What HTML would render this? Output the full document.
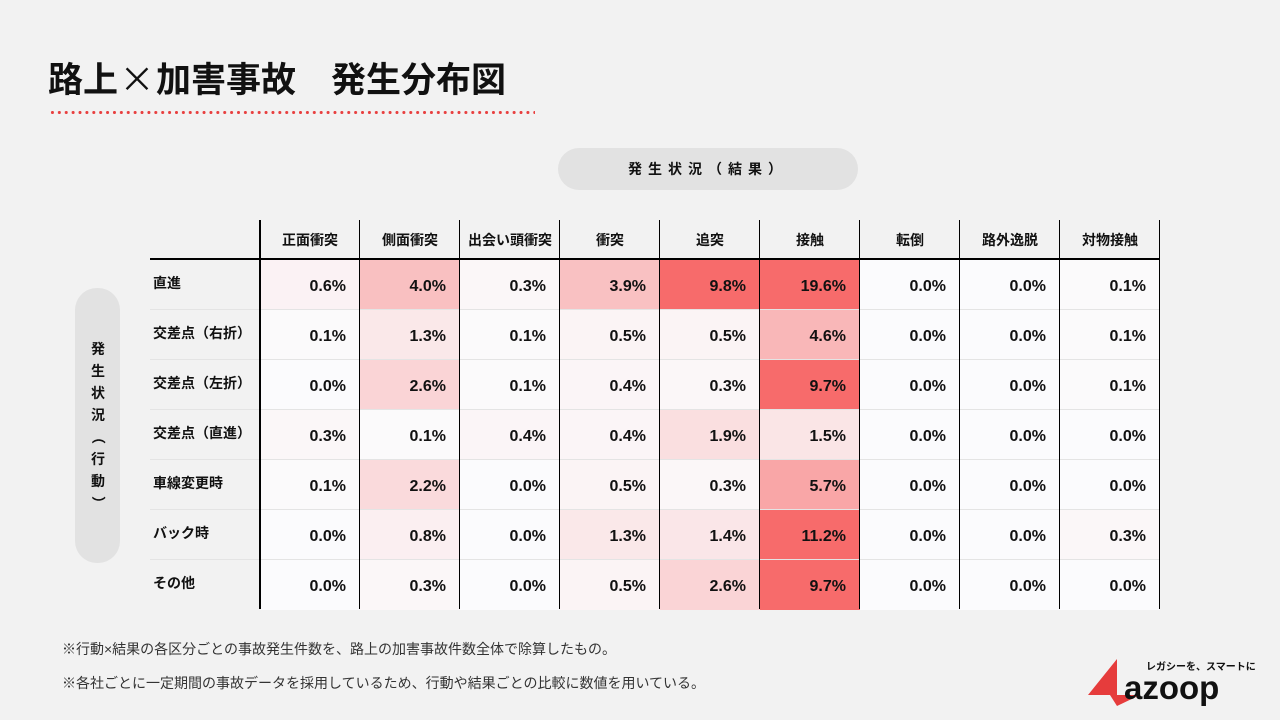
<!DOCTYPE html>
<html><head><meta charset="utf-8"><style>
body{margin:0;width:1280px;height:720px;background:#f2f2f2;position:relative;overflow:hidden;font-family:"Liberation Sans","Noto Sans CJK JP",sans-serif;color:#111}
.title{position:absolute;left:48px;top:53px;font-size:35px;font-weight:bold;white-space:nowrap;font-family:"Noto Sans CJK JP",sans-serif;line-height:50px}
.x{display:inline-block;width:38px;text-align:center;font-weight:normal}
.dots{position:absolute;left:49px;top:110px;width:486px;height:5px;background-image:radial-gradient(circle,#e84040 1.4px,transparent 1.7px);background-size:6.9px 5px}
.pill1{position:absolute;left:558px;top:148px;width:300px;height:42px;border-radius:21px;background:#e2e2e2;text-align:center;line-height:42px;font-size:14px;font-weight:bold;letter-spacing:6px}
.pill2{position:absolute;left:75px;top:288px;width:45px;height:275px;border-radius:22px;background:#e2e2e2}
.vt{position:absolute;left:90px;top:338px;width:16px;font-size:14px;font-weight:bold;line-height:22px;text-align:center}
.c{position:absolute;box-sizing:border-box}
.hd{top:220px;height:39px;width:100px;line-height:40px;text-align:center;font-size:14px;font-weight:bold}
.lb{left:153px;height:50px;line-height:46px;font-size:14px;font-weight:bold}
.v{width:100px;height:50px;line-height:54px;text-align:right;padding-right:14px;font-size:16px;font-weight:bold}
.note{position:absolute;left:62px;font-size:14px;color:#333;white-space:nowrap}
.logo{position:absolute;left:1086px;top:655px}
</style></head><body>
<div class="title">路上<span class="x">×</span>加害事故　発生分布図</div>
<div class="dots"></div>
<div class="pill1">発生状況（結果）</div>
<div class="pill2"></div>
<div class="vt">発<br>生<br>状<br>況<br><span style="display:inline-block;transform:rotate(90deg)">（</span><br>行<br>動<br><span style="display:inline-block;transform:rotate(90deg)">）</span></div>
<div id="t"></div>
<div class="note" style="top:639px">※行動×結果の各区分ごとの事故発生件数を、路上の加害事故件数全体で除算したもの。</div>
<div class="note" style="top:673px">※各社ごとに一定期間の事故データを採用しているため、行動や結果ごとの比較に数値を用いている。</div>
<div class="logo">
<svg width="170" height="52" viewBox="0 0 170 52">
<polygon points="2,40 31,4 31,40" fill="#e63c3c"/>
<polygon points="24,40 54,40 31,51" fill="#e63c3c"/>
<text x="60" y="15" font-size="10" font-weight="bold" font-family="Noto Sans CJK JP,sans-serif" fill="#111">レガシーを、スマートに。</text>
<text x="38" y="44" font-size="33" font-weight="bold" font-family="Liberation Sans,sans-serif" fill="#111">azoop</text>
</svg></div>
<script>
const cols=["正面衝突","側面衝突","出会い頭衝突","衝突","追突","接触","転倒","路外逸脱","対物接触"];
const rows=[["直進",[0.6,4.0,0.3,3.9,9.8,19.6,0,0,0.1]],["交差点（右折）",[0.1,1.3,0.1,0.5,0.5,4.6,0,0,0.1]],["交差点（左折）",[0,2.6,0.1,0.4,0.3,9.7,0,0,0.1]],["交差点（直進）",[0.3,0.1,0.4,0.4,1.9,1.5,0,0,0]],["車線変更時",[0.1,2.2,0,0.5,0.3,5.7,0,0,0]],["バック時",[0,0.8,0,1.3,1.4,11.2,0,0,0.3]],["その他",[0,0.3,0,0.5,2.6,9.7,0,0,0]]];
let h='';
cols.forEach((c,i)=>{h+=`<div class="c hd" style="left:${260+i*100}px">${c}</div>`});
rows.forEach((r,ri)=>{const y=260+ri*50;
 h+=`<div class="c lb" style="top:${y}px">${r[0]}</div>`;
 r[1].forEach((v,i)=>{const t=Math.min(v/9.7,1);const col=`rgb(${Math.round(251-4*t)},${Math.round(251-144*t)},${Math.round(253-146*t)})`;
 h+=`<div class="c v" style="left:${260+i*100}px;top:${y}px;background:${col}">${v.toFixed(1)}%</div>`;});
 if(ri>0)h+=`<div class="c" style="left:150px;top:${y-1}px;width:1010px;height:1px;background:#e4e4e4"></div>`;
});
for(let i=0;i<=9;i++){h+=`<div class="c" style="left:${i==0?259:259+i*100}px;top:220px;width:${i==0?2:1}px;height:389px;background:#000"></div>`}
h+=`<div class="c" style="left:150px;top:258px;width:1010px;height:2px;background:#000"></div>`;
document.getElementById('t').innerHTML=h;
</script>
</body></html>
